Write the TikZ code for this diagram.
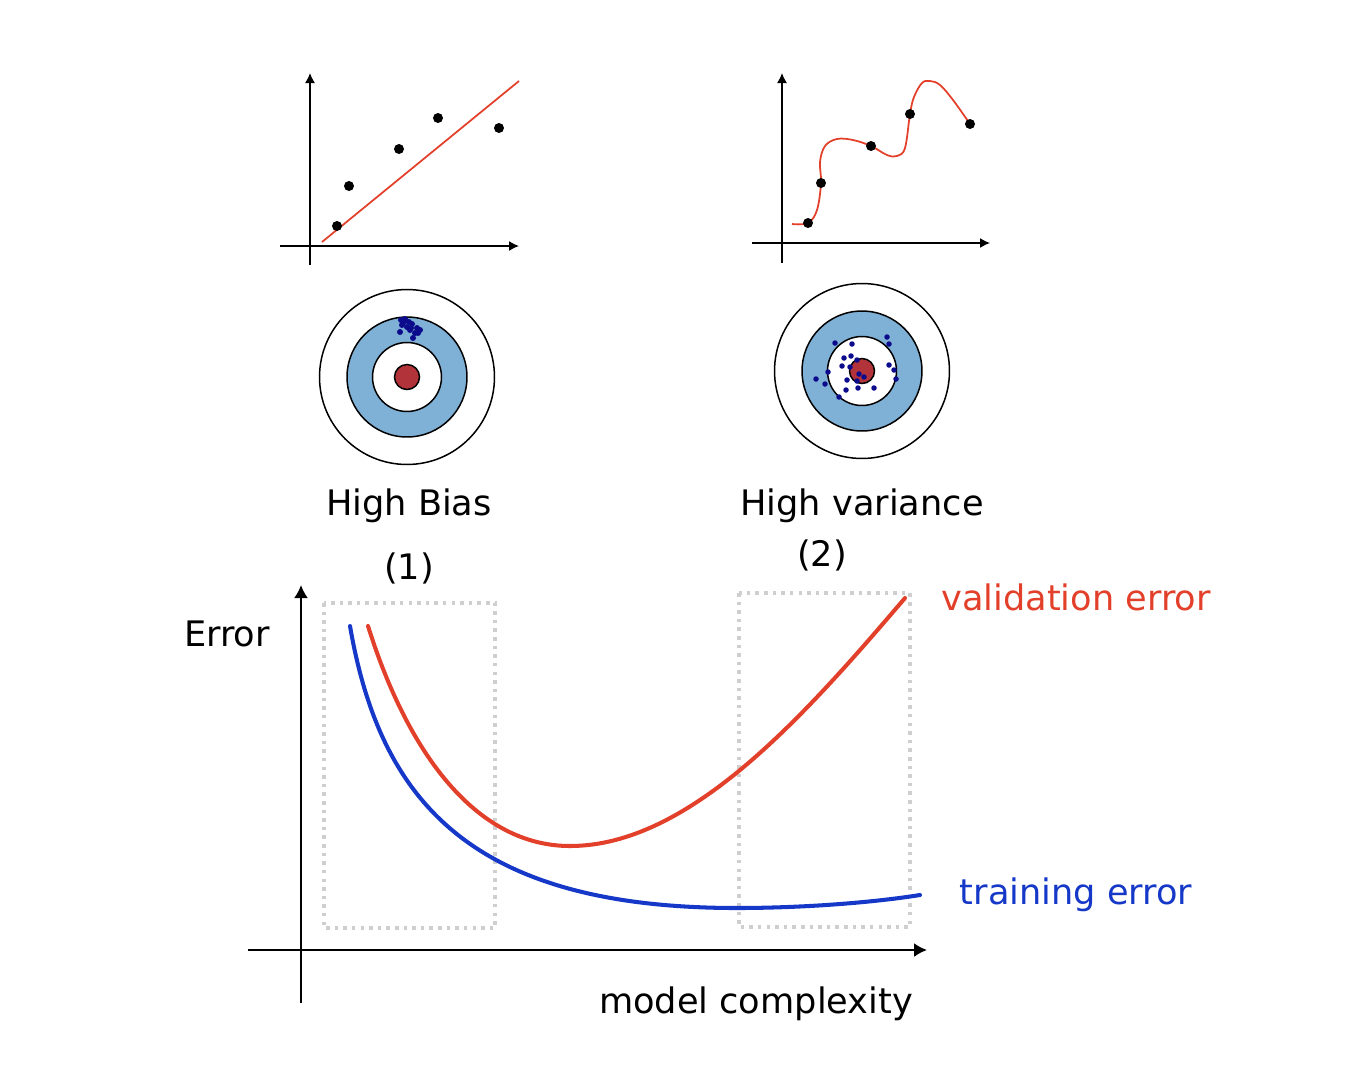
\documentclass[tikz,border=0pt]{standalone}
\usepackage{fontspec}
\setmainfont{DejaVu Sans}
\usepackage{xcolor}
\usepackage{tikz}
\usetikzlibrary{arrows.meta}

\definecolor{curvered}{HTML}{E2402A}
\definecolor{curveblue}{HTML}{1538C8}
\definecolor{ringblue}{HTML}{7FB0D6}
\definecolor{bullred}{HTML}{B2343A}
\definecolor{shotblue}{HTML}{0B0B8C}
\definecolor{zonegray}{HTML}{CFCFCF}

\begin{document}
\begin{tikzpicture}[x=0.02cm, y=-0.02cm,
    axis/.style={line width=1.1pt, -{Latex[length=0.26cm,width=0.28cm]}},
    smallaxis/.style={line width=0.8pt, -{Latex[length=0.2cm,width=0.2cm]}},
    hand/.style={inner sep=0pt, font=\fontsize{20}{24}\selectfont},
    zone/.style={draw=zonegray, line width=2pt, dash pattern=on 2pt off 2.9pt},
    errcurve/.style={line width=2.3pt, line cap=round}]
    \useasboundingbox (0,0) rectangle (1352,1072);

    \draw[smallaxis] (310,265) -- (310,73);
    \draw[smallaxis] (280,246) -- (519,246);
    \draw[curvered, line width=1pt] (322,242) -- (519,81);
    \foreach \x/\y in {337/226, 349/186, 399/149, 438/118, 499/128}
    \fill (\x,\y) circle (0.1cm);

    \draw[smallaxis] (782,263) -- (782,73);
    \draw[smallaxis] (752,243) -- (990,243);
    \draw[curvered, line width=1pt] plot[smooth, tension=0.6] coordinates {
        (792,224) (808,223) (817,210) (821,183) (820,162) (825,146)
        (837,139) (853,140) (871,146) (887,155) (897,156) (905,148)
        (910,114) (914,97) (922,83) (930,81) (940,85) (953,100) (970,124)};
    \foreach \x/\y in {808/223, 821/183, 871/146, 910/114, 970/124}
    \fill (\x,\y) circle (0.1cm);

    \foreach \x/\y/\n in {407/377/tb, 862/371/tv} {
        \coordinate (\n) at (\x,\y);
        \filldraw[line width=0.85pt, fill=white] (\n) circle (1.75cm);
        \filldraw[line width=0.85pt, fill=ringblue] (\n) circle (1.2cm);
        \filldraw[line width=0.85pt, fill=white] (\n) circle (0.69cm);
        \filldraw[line width=0.85pt, fill=bullred] (\n) circle (0.25cm);
    }

    \foreach \x/\y in {401/320, 405/319, 409/322, 402/325, 407/327, 412/324,
        417/328, 420/330, 410/330, 400/332, 415/333, 418/333, 413/338,
        404/322, 411/328}
    \fill[shotblue] (\x,\y) circle (0.06cm);

    \foreach \x/\y in {835/343, 852/344, 887/337, 889/344, 844/358, 851/356,
        842/366, 850/367, 857/360, 828/372, 816/379, 825/384, 847/380,
        859/374, 864/377, 857/381, 858/388, 846/390, 839/397, 874/388,
        889/365, 894/370, 896/379}
    \fill[shotblue] (\x,\y) circle (0.055cm);

    \node[hand] (hb) at (409,506) {High Bias};
    \node[hand] (hv) at (862,506) {High variance};
    \node[hand] (n1) at (409,568) {(1)};
    \node[hand] (n2) at (822,555) {(2)};

    \draw[zone] (324,603) rectangle (495,928);
    \draw[zone] (739,593) rectangle (910,927);

    \draw[axis] (301,1003) -- (301,585);
    \draw[axis] (248,950) -- (927,950);

    \draw[errcurve, curveblue] (350,626)
        .. controls (380,800) and (470,908) .. (737,908)
        .. controls (800,908) and (870,903) .. (920,895);
    \draw[errcurve, curvered] (368,626)
        .. controls (410,760) and (480,846) .. (570,846)
        .. controls (690,846) and (805,715) .. (905,598);

    \node[hand] (err) at (227,634) {Error};
    \node[hand, text=curvered] (val) at (1076,597) {validation error};
    \node[hand, text=curveblue] (trn) at (1076,895) {training error};
    \node[hand] (mc) at (756,1004) {model complexity};
\end{tikzpicture}
\end{document}
